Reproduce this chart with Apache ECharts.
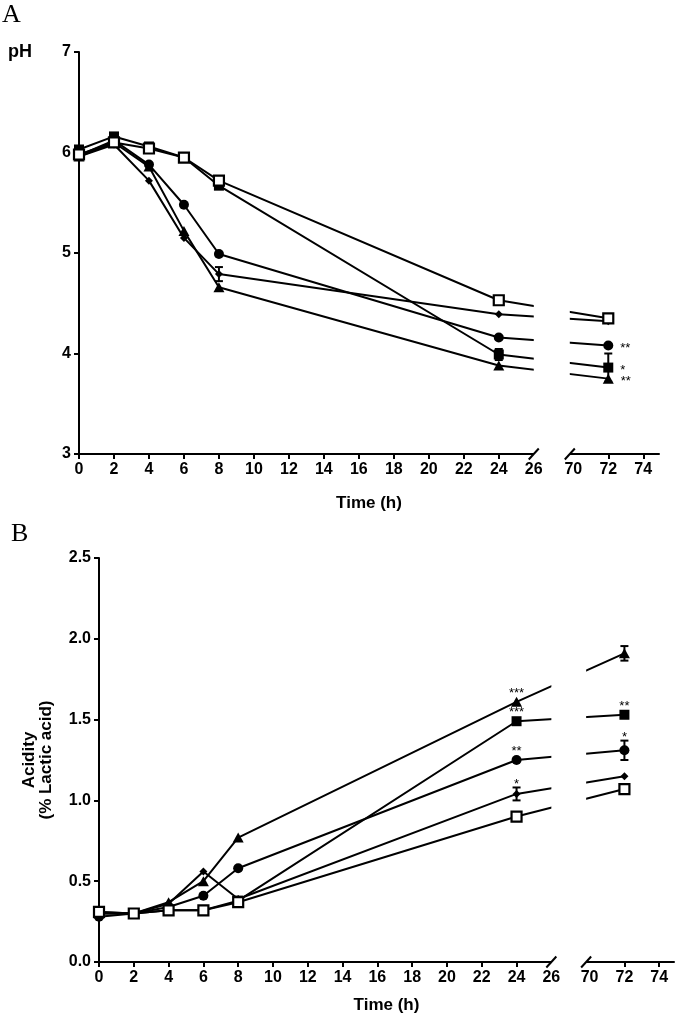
<!DOCTYPE html>
<html><head><meta charset="utf-8">
<script src="https://cdn.jsdelivr.net/npm/echarts@6/dist/echarts.min.js"></script>
<style>html,body{margin:0;padding:0;background:#fff}#c{width:678px;height:1024px}</style>
</head><body><div id="c"></div>
<script>
// ---------- data ----------
const times = [0, 2, 4, 6, 8, 24, 72];
const xTickValues = [0, 2, 4, 6, 8, 10, 12, 14, 16, 18, 20, 22, 24, 72, 74];
const xLabelValues = [0, 2, 4, 6, 8, 10, 12, 14, 16, 18, 20, 22, 24, 26, 70, 72, 74];

// Panel A : pH
const phOpenSquare = [5.98, 6.10, 6.04, 5.95, 5.72, 4.53, 4.35];
const phDiamond    = [5.96, 6.08, 5.72, 5.15, 4.79, 4.39, 4.32];
const phCircle     = [5.97, 6.12, 5.88, 5.48, 4.99, 4.16, 4.08];
const phSquare     = [6.03, 6.16, 6.06, 5.95, 5.67, 3.99, 3.86];
const phTriangle   = [5.96, 6.10, 5.86, 5.22, 4.66, 3.88, 3.75];
const phErrOpenSquare = [0.02, 0.02, 0.02, 0.02, 0.03, 0.03, 0.03];
const phErrDiamond    = [0.02, 0.02, 0.02, 0.03, 0.07, 0.02, 0.02];
const phErrCircle     = [0.02, 0.02, 0.02, 0.02, 0.02, 0.02, 0.02];
const phErrSquare     = [0.03, 0.03, 0.03, 0.02, 0.02, 0.055, 0.14];
const phErrTriangle   = [0.02, 0.02, 0.03, 0.02, 0.04, 0.02, 0.04];
const phSigCircle   = ['', '', '', '', '', '', '**'];
const phSigSquare   = ['', '', '', '', '', '', '*'];
const phSigTriangle = ['', '', '', '', '', '', '**'];

// Panel B : Acidity (% lactic acid)
const acOpenSquare = [0.31, 0.30, 0.32, 0.32, 0.37, 0.90, 1.07];
const acDiamond    = [0.30, 0.30, 0.36, 0.56, 0.39, 1.04, 1.15];
const acCircle     = [0.28, 0.30, 0.34, 0.41, 0.58, 1.25, 1.31];
const acSquare     = [0.31, 0.30, 0.32, 0.32, 0.38, 1.49, 1.53];
const acTriangle   = [0.30, 0.30, 0.37, 0.50, 0.77, 1.61, 1.91];
const acErrOpenSquare = [0.01, 0.01, 0.01, 0.01, 0.01, 0.02, 0.02];
const acErrDiamond    = [0.01, 0.01, 0.01, 0.01, 0.01, 0.04, 0.01];
const acErrCircle     = [0.01, 0.01, 0.01, 0.01, 0.01, 0.01, 0.06];
const acErrSquare     = [0.01, 0.01, 0.01, 0.01, 0.01, 0.01, 0.01];
const acErrTriangle   = [0.01, 0.01, 0.01, 0.01, 0.01, 0.01, 0.045];
const acSigDiamond  = ['', '', '', '', '', '*', ''];
const acSigCircle   = ['', '', '', '', '', '**', '*'];
const acSigSquare   = ['', '', '', '', '', '***', '**'];
const acSigTriangle = ['', '', '', '', '', '***', ''];

// ---------- chart ----------
const FONT = 'Liberation Sans, Arial, sans-serif';
const chart = echarts.init(document.getElementById('c'), null, {renderer: 'canvas'});

const markers = {
  openSquare: {symbol: 'rect', symbolSize: 10, itemStyle: {color: '#fff', borderColor: '#000', borderWidth: 2.2}},
  diamond:    {symbol: 'diamond', symbolSize: 8, itemStyle: {color: '#000'}},
  circle:     {symbol: 'circle', symbolSize: 10, itemStyle: {color: '#000'}},
  square:     {symbol: 'rect', symbolSize: 10, itemStyle: {color: '#000'}},
  triangle:   {symbol: 'triangle', symbolSize: [11, 10], itemStyle: {color: '#000'}}
};

// line + markers; optional significance labels to the right of the marker (panel A)
function lineSeries(idx, vals, mk, sig) {
  return Object.assign({
    type: 'line', xAxisIndex: idx, yAxisIndex: idx,
    showAllSymbol: true, z: 3,
    lineStyle: {color: '#000', width: 2},
    emphasis: {disabled: true},
    data: times.map((t, i) => {
      const d = {value: [t, vals[i]]};
      if (sig && sig[i]) {
        d.label = {show: true, formatter: sig[i], position: 'right', distance: 7, offset: [0, 3],
          color: '#000', fontSize: 13, fontFamily: FONT};
      }
      return d;
    })
  }, mk);
}

// error bars (drawn only where they reach beyond the marker)
function errSeries(idx, vals, errs) {
  return {
    type: 'custom', xAxisIndex: idx, yAxisIndex: idx, z: 2,
    data: times.map((t, i) => [t, vals[i] - errs[i], vals[i] + errs[i]]),
    renderItem: function (params, api) {
      const lo = api.coord([api.value(0), api.value(1)]);
      const hi = api.coord([api.value(0), api.value(2)]);
      if (lo[1] - hi[1] < 10) return null;
      const w = 4;
      const st = {stroke: '#000', lineWidth: 2};
      return {type: 'group', children: [
        {type: 'line', shape: {x1: lo[0], y1: lo[1], x2: hi[0], y2: hi[1]}, style: st},
        {type: 'line', shape: {x1: lo[0] - w, y1: lo[1], x2: lo[0] + w, y2: lo[1]}, style: st},
        {type: 'line', shape: {x1: hi[0] - w, y1: hi[1], x2: hi[0] + w, y2: hi[1]}, style: st}
      ]};
    }
  };
}

// significance asterisks above the marker or above its error bar (panel B)
function sigAboveSeries(idx, vals, errs, sig) {
  return {
    type: 'custom', xAxisIndex: idx, yAxisIndex: idx, z: 6, silent: true,
    data: times.map((t, i) => [t, vals[i], vals[i] + errs[i], i]).filter(d => sig[d[3]]),
    renderItem: function (params, api) {
      const c = api.coord([api.value(0), api.value(1)]);
      const hi = api.coord([api.value(0), api.value(2)]);
      const top = Math.min(hi[1], c[1] - 5);
      return {type: 'text', style: {text: sig[api.value(3)], x: c[0], y: top + 3,
        textAlign: 'center', textVerticalAlign: 'bottom', font: '13px ' + FONT, fill: '#000'}};
    }
  };
}

function xAxisCfg(idx, gap, max, nameGap) {
  return {
    type: 'value', gridIndex: idx, min: 0, max: max,
    breaks: [{start: 26, end: 69.8, gap: gap}],
    breakArea: {show: false},
    breakLabelLayout: {moveOverlap: false},
    name: 'Time (h)', nameLocation: 'middle', nameGap: nameGap,
    nameTextStyle: {fontFamily: FONT, fontWeight: 'bold', fontSize: 17, color: '#000'},
    axisLine: {show: true, onZero: false, lineStyle: {color: '#000', width: 2}},
    axisTick: {show: true, length: 5, lineStyle: {color: '#000', width: 2}, customValues: xTickValues},
    axisLabel: {show: true, margin: 8, fontFamily: FONT, fontWeight: 'bold', fontSize: 16, color: '#000',
      customValues: xLabelValues},
    splitLine: {show: false}
  };
}

const option = {
  backgroundColor: '#fff',
  animation: false,
  grid: [
    {left: 79, top: 52, width: 580, height: 402},
    {left: 99, top: 558, width: 575, height: 404}
  ],
  xAxis: [xAxisCfg(0, 2.06, 74.9, 41), xAxisCfg(1, 2.0, 74.85, 35)],
  yAxis: [
    {type: 'value', gridIndex: 0, min: 3, max: 7, interval: 1,
      axisLine: {show: true, lineStyle: {color: '#000', width: 2}},
      axisTick: {show: true, length: 5, lineStyle: {color: '#000', width: 2}},
      axisLabel: {margin: 8, fontFamily: FONT, fontWeight: 'bold', fontSize: 16, color: '#000'},
      splitLine: {show: false}},
    {type: 'value', gridIndex: 1, min: 0, max: 2.5, interval: 0.5,
      name: 'Acidity\n(% Lactic acid)', nameLocation: 'middle', nameGap: 44, nameRotate: 90,
      nameTextStyle: {fontFamily: FONT, fontWeight: 'bold', fontSize: 17, lineHeight: 17, color: '#000'},
      axisLine: {show: true, lineStyle: {color: '#000', width: 2}},
      axisTick: {show: true, length: 5, lineStyle: {color: '#000', width: 2}},
      axisLabel: {margin: 8, fontFamily: FONT, fontWeight: 'bold', fontSize: 16, color: '#000',
        formatter: v => v.toFixed(1)},
      splitLine: {show: false}}
  ],
  series: [
    errSeries(0, phOpenSquare, phErrOpenSquare),
    errSeries(0, phDiamond, phErrDiamond),
    errSeries(0, phCircle, phErrCircle),
    errSeries(0, phSquare, phErrSquare),
    errSeries(0, phTriangle, phErrTriangle),
    lineSeries(0, phTriangle, markers.triangle, phSigTriangle),
    lineSeries(0, phSquare, markers.square, phSigSquare),
    lineSeries(0, phCircle, markers.circle, phSigCircle),
    lineSeries(0, phDiamond, markers.diamond, null),
    lineSeries(0, phOpenSquare, markers.openSquare, null),

    errSeries(1, acOpenSquare, acErrOpenSquare),
    errSeries(1, acDiamond, acErrDiamond),
    errSeries(1, acCircle, acErrCircle),
    errSeries(1, acSquare, acErrSquare),
    errSeries(1, acTriangle, acErrTriangle),
    lineSeries(1, acTriangle, markers.triangle, null),
    lineSeries(1, acSquare, markers.square, null),
    lineSeries(1, acCircle, markers.circle, null),
    lineSeries(1, acDiamond, markers.diamond, null),
    lineSeries(1, acOpenSquare, markers.openSquare, null),
    sigAboveSeries(1, acTriangle, acErrTriangle, acSigTriangle),
    sigAboveSeries(1, acSquare, acErrSquare, acSigSquare),
    sigAboveSeries(1, acCircle, acErrCircle, acSigCircle),
    sigAboveSeries(1, acDiamond, acErrDiamond, acSigDiamond)
  ]
};
chart.setOption(option);

// break gap + slashes, placed with the axis scale
const graphics = [
  {type: 'text', left: 2, top: 2, style: {text: 'A', font: '26px "Liberation Serif", serif', fill: '#000'}},
  {type: 'text', left: 11, top: 521, style: {text: 'B', font: '26px "Liberation Serif", serif', fill: '#000'}},
  {type: 'text', left: 8, top: 43, style: {text: 'pH', font: 'bold 18px ' + FONT, fill: '#000'}}
];
[[0, 3, 7], [1, 0, 2.5]].forEach(([g, ymin, ymax]) => {
  const p1 = chart.convertToPixel({gridIndex: g}, [26, ymin]);
  const p2 = chart.convertToPixel({gridIndex: g}, [69.8, ymin]);
  const top = chart.convertToPixel({gridIndex: g}, [26, ymax]);
  graphics.push({type: 'rect', z: 100, silent: true,
    shape: {x: p1[0], y: top[1] - 10, width: p2[0] - p1[0], height: p1[1] - top[1] + 12},
    style: {fill: '#fff'}});
  [p1, p2].forEach(p => graphics.push({type: 'line', z: 101, silent: true,
    shape: {x1: p[0] - 5, y1: p[1] + 5.5, x2: p[0] + 5, y2: p[1] - 5.5},
    style: {stroke: '#000', lineWidth: 2}}));
});
chart.setOption({graphic: graphics});
</script></body></html>
